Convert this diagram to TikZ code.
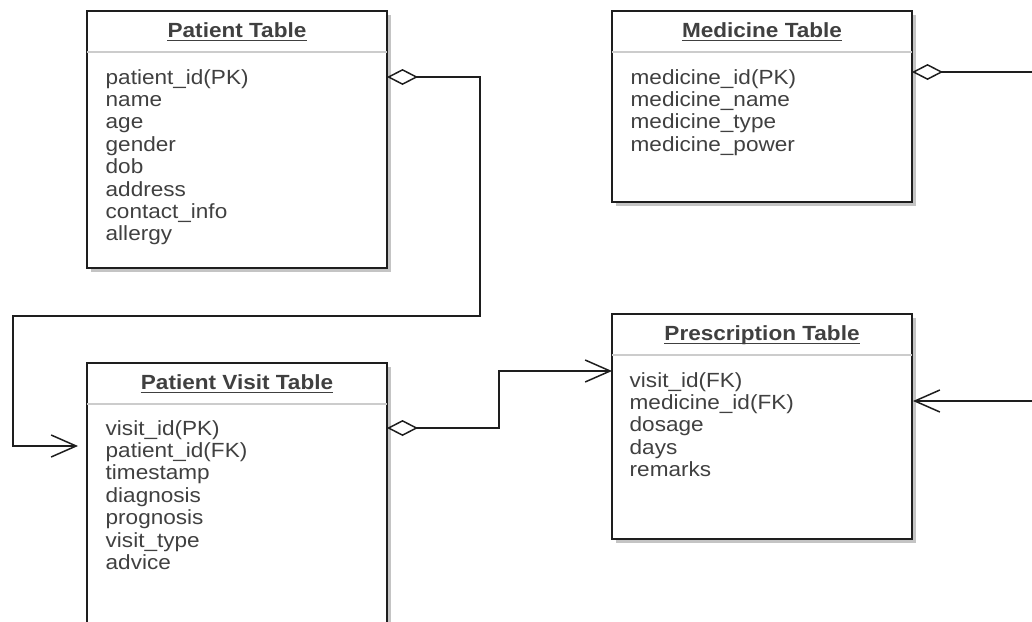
\documentclass[tikz,border=0pt]{standalone}
\usepackage{fontspec}
\setmainfont{Liberation Sans}[FakeStretch=1.1]
\usetikzlibrary{arrows.meta,calc,shadows}
\definecolor{boxline}{HTML}{1E1E1E}
\definecolor{txt}{HTML}{404040}
\definecolor{sepc}{HTML}{CCCCCC}
\definecolor{shadowc}{HTML}{C4C4C4}
\begin{document}
\begin{tikzpicture}[x=1pt,y=-1pt,
  tbl/.style={draw=boxline, line width=1.5pt, fill=white, minimum width=300pt,
    inner sep=0pt, outer sep=0pt, anchor=north west,
    drop shadow={shadow xshift=4pt, shadow yshift=-4pt, fill=shadowc, opacity=1}},
  ttl/.style={font=\bfseries\fontsize{20.5}{22.4}\selectfont, text=txt, inner sep=0pt, anchor=base},
  rows/.style={font=\fontsize{20.5}{22.4}\selectfont, text=txt, inner sep=0pt, anchor=base west},
  sepl/.style={draw=sepc, line width=2pt},
  ul/.style={draw=txt, line width=1.3pt},
  conn/.style={draw=boxline, line width=1.5pt},
  agg/.style={conn, {Diamond[open,length=31pt,width=16pt]}-},
  nav/.style={conn, -{Straight Barb[length=25pt,width=22pt]}},
  aggnav/.style={conn, {Diamond[open,length=31pt,width=16pt]}-{Straight Barb[length=25pt,width=22pt]}}
]
\useasboundingbox (0,0) rectangle (1032,621);
\clip (0,0) rectangle (1032,621);

% ---------- tables ----------
\node[tbl, minimum height=257pt] (patient) at (87,11) {};
\node[tbl, minimum height=191pt] (medicine) at (612,11) {};
\node[tbl, minimum height=290pt] (visit) at (87,363) {};
\node[tbl, minimum height=225pt] (presc) at (612,314) {};

% separators
\draw[sepl] ($(patient.north west)+(0,41)$) -- ($(patient.north east)+(0,41)$);
\draw[sepl] ($(medicine.north west)+(0,41)$) -- ($(medicine.north east)+(0,41)$);
\draw[sepl] ($(visit.north west)+(0,41)$) -- ($(visit.north east)+(0,41)$);
\draw[sepl] ($(presc.north west)+(0,41)$) -- ($(presc.north east)+(0,41)$);

% titles
\node[ttl] (patientT) at ($(patient.north)+(0,26.5)$) {Patient Table};
\node[ttl] (medicineT) at ($(medicine.north)+(0,26.5)$) {Medicine Table};
\node[ttl] (visitT) at ($(visit.north)+(0,26.5)$) {Patient Visit Table};
\node[ttl] (prescT) at ($(presc.north)+(0,26.5)$) {Prescription Table};
\foreach \t in {patientT,medicineT,visitT,prescT}{
  \draw[ul] ($(\t.base west)+(0,3.2)$) -- ($(\t.base east)+(0,3.2)$);
}

% rows
\node[rows] (patientR) at ($(patient.north west)+(18.5,73)$) {\begin{tabular}[t]{@{}l@{}}
patient\_id(PK)\\ name\\ age\\ gender\\ dob\\ address\\ contact\_info\\ allergy\end{tabular}};
\node[rows] (medicineR) at ($(medicine.north west)+(18.5,73)$) {\begin{tabular}[t]{@{}l@{}}
medicine\_id(PK)\\ medicine\_name\\ medicine\_type\\ medicine\_power\end{tabular}};
\node[rows] (visitR) at ($(visit.north west)+(18.5,72)$) {\begin{tabular}[t]{@{}l@{}}
visit\_id(PK)\\ patient\_id(FK)\\ timestamp\\ diagnosis\\ prognosis\\ visit\_type\\ advice\end{tabular}};
\node[rows] (prescR) at ($(presc.north west)+(17.5,73)$) {\begin{tabular}[t]{@{}l@{}}
visit\_id(FK)\\ medicine\_id(FK)\\ dosage\\ days\\ remarks\end{tabular}};

% ---------- connectors ----------
\coordinate (e1) at (1032,72);
\coordinate (e2) at (1032,401);

\draw[aggnav] ($(patient.north east)+(0,66)$) -- (480,77) -- (480,316) -- (13,316)
  -- (13,446) -- ($(visit.north west)+(-9,83)$);
\draw[aggnav] ($(visit.north east)+(0,65)$) -- (499,428) -- (499,371)
  -- ($(presc.north west)+(0,57)$);
\draw[agg] ($(medicine.north east)+(0,61)$) -- (e1);
\draw[nav] (e2) -- ($(presc.north east)+(1,87)$);
\end{tikzpicture}
\end{document}
